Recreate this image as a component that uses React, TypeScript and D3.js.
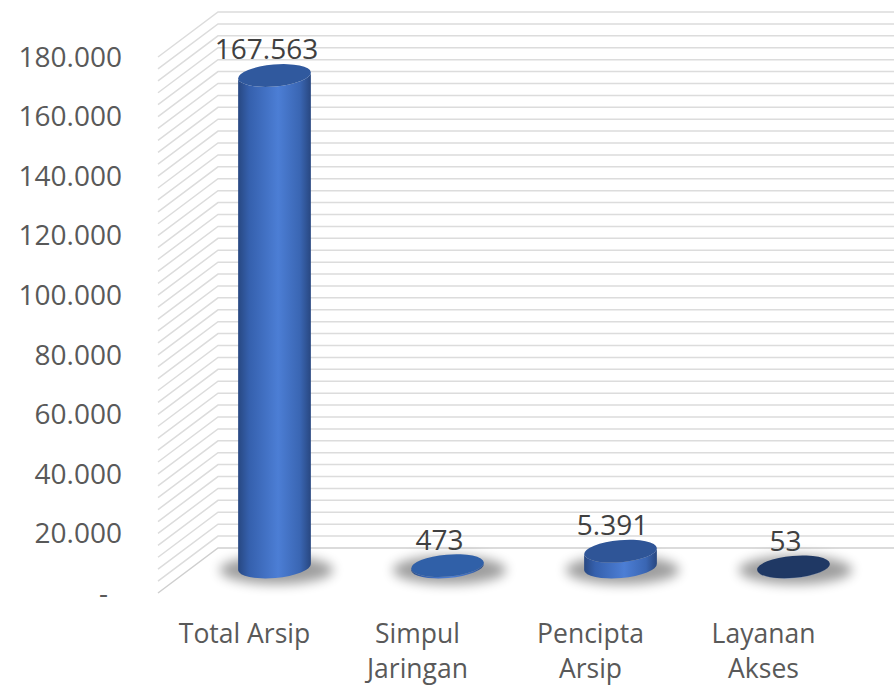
import React from "react";
import * as d3 from "d3";

const categories: string[][] = [["Total Arsip"], ["Simpul", "Jaringan"], ["Pencipta", "Arsip"], ["Layanan", "Akses"]];
const values: number[] = [167563, 473, 5391, 53];
const valueLabels: string[] = ["167.563", "473", "5.391", "53"];
const yTicks: number[] = [0, 20000, 40000, 60000, 80000, 100000, 120000, 140000, 160000, 180000];
const yTickLabels: string[] = ["-", "20.000", "40.000", "60.000", "80.000", "100.000", "120.000", "140.000", "160.000", "180.000"];
const topColors: string[] = ["#30599e", "#3060a8", "#2f5597", "#1f3864"];

const W = 894;
const H = 685;
const FONT = "'Open Sans', 'Noto Sans', sans-serif";

export default function App() {
  const frontX = 158;
  const backX = 218;
  const depth = 45;
  const yFront = d3.scaleLinear().domain([0, 180000]).range([593, 57]);
  const yBar = d3.scaleLinear().domain([0, 180000]).range([567, 39]);
  const x = d3.scaleBand<number>().domain(d3.range(categories.length)).range([188, 880]).padding(0);
  const minor = d3.range(0, 180001, 4000);
  const rx = 36.5;
  const ry = 11;
  const rotDeg = -5;
  const a = (rotDeg * Math.PI) / 180;
  const ex = rx * Math.cos(a);
  const ey = rx * Math.sin(a);

  return (
    <svg width={W} height={H} style={{ position: "absolute", left: 0, top: 0, background: "#fff" }}>
      <defs>
        <linearGradient id="body" x1="0" x2="1" y1="0" y2="0">
          <stop offset="0" stopColor="#284882" />
          <stop offset="0.15" stopColor="#3560ad" />
          <stop offset="0.55" stopColor="#4c7ed5" />
          <stop offset="0.85" stopColor="#3a66b3" />
          <stop offset="1" stopColor="#284780" />
        </linearGradient>
        <filter id="blur" x="-50%" y="-100%" width="200%" height="300%">
          <feGaussianBlur stdDeviation="6" />
        </filter>
      </defs>
      <g>
        {minor.map((v) => {
          const yf = yFront(v);
          const yb = yf - depth;
          return (
            <polyline
              key={v}
              points={`${frontX},${yf} ${backX},${yb} ${W + 10},${yb}`}
              fill="none"
              stroke={v === 0 ? "#cfcfcf" : "#dcdcdc"}
              strokeWidth={1.5}
            />
          );
        })}
      </g>
      <g fontFamily={FONT} fontSize={28} fill="#595959">
        {yTicks.map((t, i) => (
          <text key={t} x={t === 0 ? 108 : 122} y={yFront(t)} dy="0.35em" textAnchor="end">
            {yTickLabels[i]}
          </text>
        ))}
      </g>
      <g>
        {values.map((v, i) => {
          const cx = (x(i) as number) + x.bandwidth() / 2;
          const yb = yBar(0);
          const yt = yBar(v);
          const body = `M${cx - ex},${yt - ey} L${cx - ex},${yb - ey} A${rx},${ry} ${rotDeg} 0 0 ${cx + ex},${yb + ey} L${cx + ex},${yt + ey} A${rx},${ry} ${rotDeg} 0 1 ${cx - ex},${yt - ey} Z`;
          return (
            <g key={i}>
              <ellipse cx={cx + 2} cy={yb + 3} rx={rx * 1.55} ry={ry * 1.3} fill="#000" opacity={0.38} filter="url(#blur)" />
              <path d={body} fill="url(#body)" />
              <ellipse cx={cx} cy={yt} rx={rx} ry={ry} fill={topColors[i]} transform={`rotate(${rotDeg} ${cx} ${yt})`} />
            </g>
          );
        })}
      </g>
      <g fontFamily={FONT} fontSize={28} fill="#404040" textAnchor="middle">
        {values.map((v, i) => {
          const cx = (x(i) as number) + x.bandwidth() / 2;
          return (
            <text key={i} x={cx - 8} y={yBar(v) - 16}>
              {valueLabels[i]}
            </text>
          );
        })}
      </g>
      <g fontFamily={FONT} fontSize={26.5} fill="#595959" textAnchor="middle">
        {categories.map((lines, i) => {
          const cx = (x(i) as number) + x.bandwidth() / 2 - 30;
          return (
            <text key={i} x={cx} y={643}>
              {lines.map((l, j) => (
                <tspan key={j} x={cx} y={643 + j * 35}>
                  {l}
                </tspan>
              ))}
            </text>
          );
        })}
      </g>
    </svg>
  );
}
